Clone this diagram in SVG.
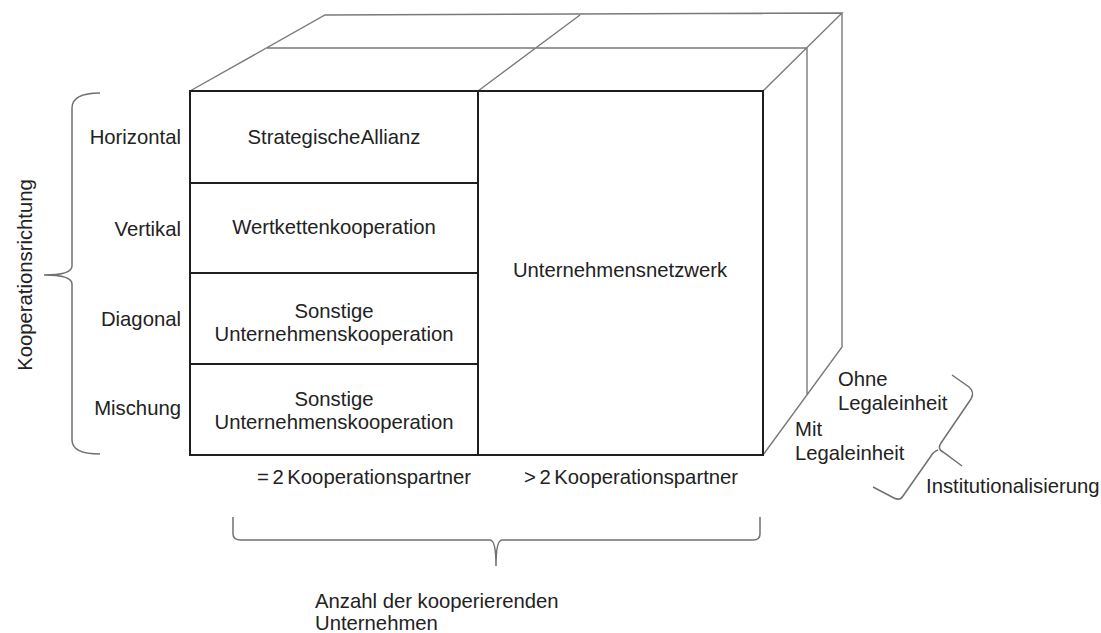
<svg xmlns="http://www.w3.org/2000/svg" width="1101" height="633" viewBox="0 0 1101 633">
<style>
.bg{fill:#fff}
.front{fill:none;stroke:#1e1e1e;stroke-width:2}
.side{fill:none;stroke:#7a7a7a;stroke-width:1.4}
.brace{fill:none;stroke:#707070;stroke-width:1.5}
text{font-family:"Liberation Sans",Arial,sans-serif;font-size:20.3px;fill:#222}
.m{text-anchor:middle}
.e{text-anchor:end}
</style>
<rect class="bg" x="0" y="0" width="1101" height="633"/>
<g id="cube-top-right">
<path class="side" d="M190,91 L325,15 L842,13 L763,91 M267,48 L807,48 M478,91 L580,15 M807,48 L807,394 M842,13 L842,347 L763,455"/>
</g>
<g id="front-frame">
<rect class="front" x="190" y="91" width="573" height="364"/>
<path class="front" d="M478,91 L478,455 M190,183 L478,183 M190,273 L478,273 M190,364 L478,364"/>
</g>
<g id="cell-strategische-allianz"><text class="m" x="334" y="144" word-spacing="-4">Strategische Allianz</text></g>
<g id="cell-wertkettenkooperation"><text class="m" x="334" y="234">Wertkettenkooperation</text></g>
<g id="cell-sonstige-1"><text class="m" x="334" y="318">Sonstige</text><text class="m" x="334" y="341">Unternehmenskooperation</text></g>
<g id="cell-sonstige-2"><text class="m" x="334" y="406">Sonstige</text><text class="m" x="334" y="429">Unternehmenskooperation</text></g>
<g id="cell-netzwerk"><text class="m" x="620" y="277">Unternehmensnetzwerk</text></g>
<g id="row-labels">
<text class="e" x="181" y="144">Horizontal</text>
<text class="e" x="181" y="236">Vertikal</text>
<text class="e" x="181" y="326">Diagonal</text>
<text class="e" x="181" y="415">Mischung</text>
</g>
<g id="col-labels">
<text class="m" x="364" y="484" word-spacing="-2">= 2 Kooperationspartner</text>
<text class="m" x="631" y="484" word-spacing="-2">&gt; 2 Kooperationspartner</text>
</g>
<g id="depth-labels">
<text x="838" y="386">Ohne</text>
<text x="838" y="410">Legaleinheit</text>
<text x="795" y="436">Mit</text>
<text x="795" y="460">Legaleinheit</text>
</g>
<g id="connectors">
<path class="brace" d="M100,93 Q72,93 72,108 L72,266 Q72,275 44,275 Q72,275 72,284 L72,440 Q72,454 100,454"/>
<path class="brace" d="M233,517 L233,534 Q233,540 241,540 L490,540 Q496,540 496,566 Q496,540 502,540 L753,540 Q760,540 760,534 L760,517"/>
<path class="brace" d="M952,375 L969,387 Q975,392 971,399 L941,443 Q937,449 943,452 L962,466"/>
<path class="brace" d="M938,450 Q933,452 931,456 L903,496 Q900,501 894,498 L873,487"/>
</g>
<g id="axis-kooperationsrichtung"><text class="m" transform="translate(32,275) rotate(-90)">Kooperationsrichtung</text></g>
<g id="axis-institutionalisierung"><text x="926" y="493">Institutionalisierung</text></g>
<g id="axis-anzahl">
<text x="315" y="608">Anzahl der kooperierenden</text>
<text x="315" y="630">Unternehmen</text>
</g>
</svg>
